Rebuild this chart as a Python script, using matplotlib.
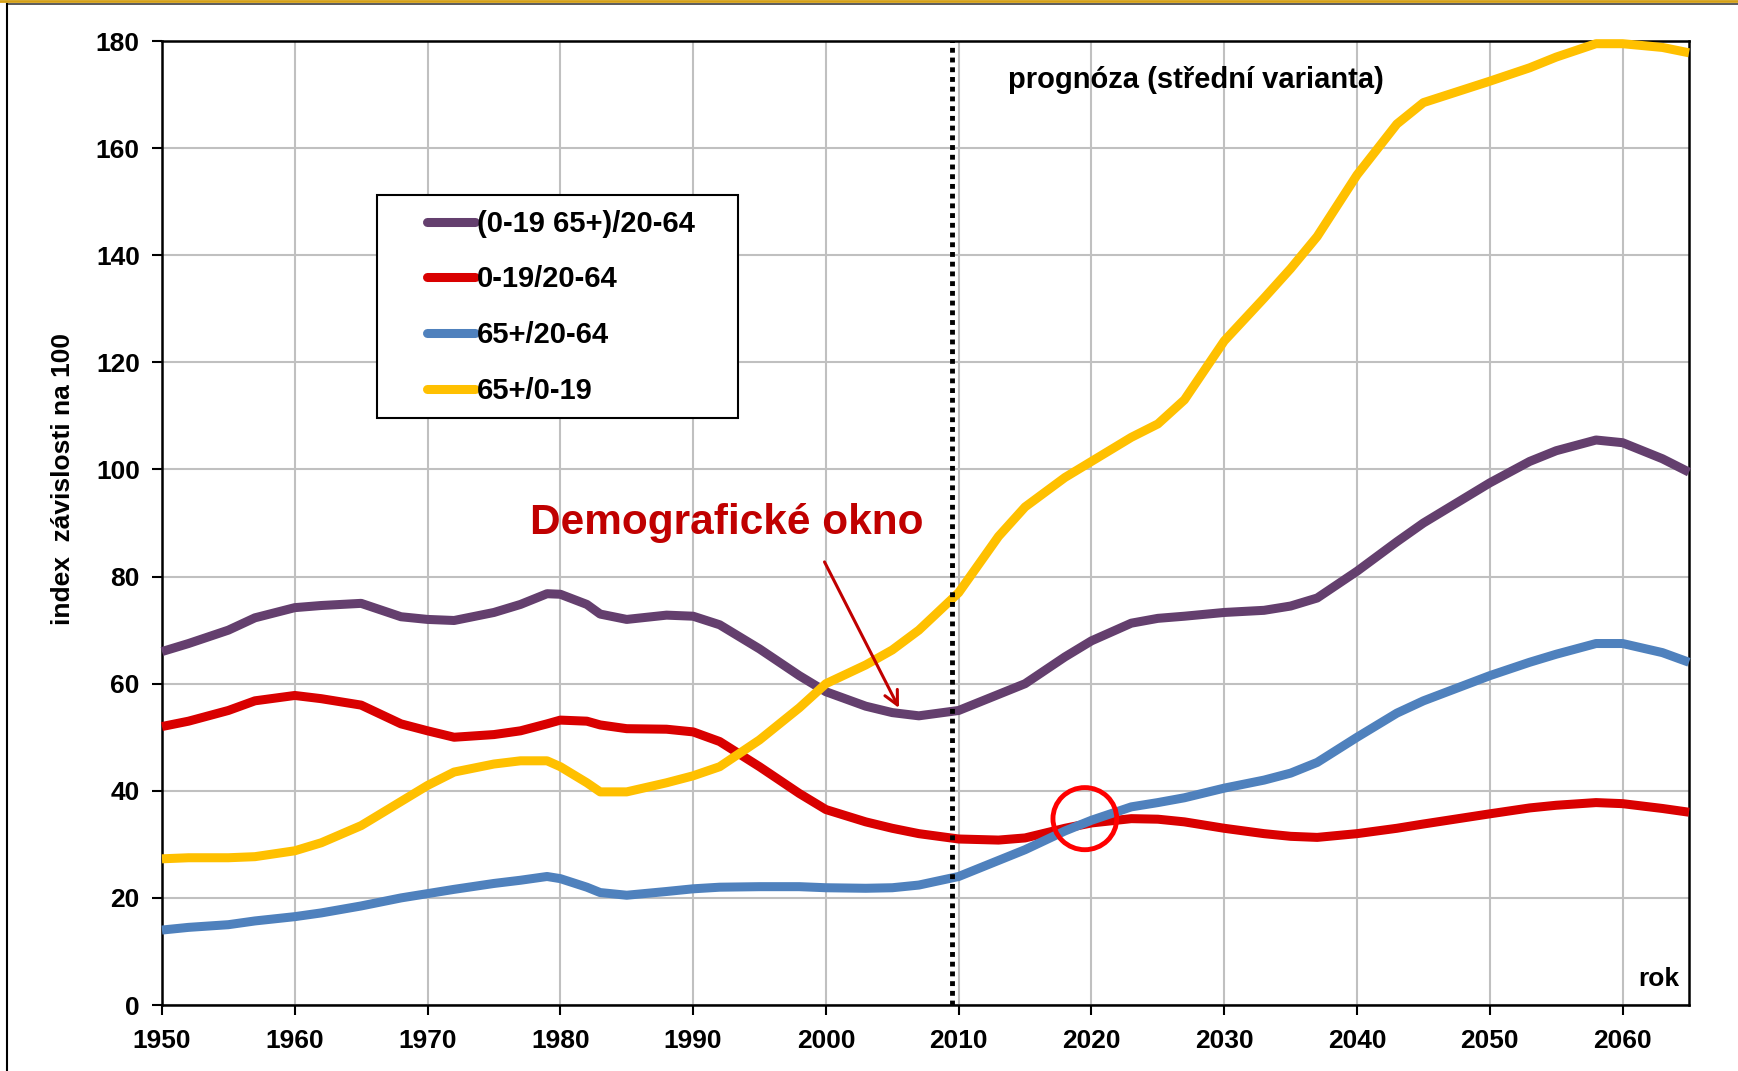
import matplotlib.pyplot as plt
from matplotlib.patches import Ellipse, Rectangle
from matplotlib.lines import Line2D

plt.rcParams['font.family'] = ['Liberation Sans', 'DejaVu Sans']
plt.rcParams['font.weight'] = 'bold'

years = [1950, 1952, 1955, 1957, 1960, 1962, 1965, 1968, 1970, 1972,
         1975, 1977, 1979, 1980, 1982, 1983, 1985, 1988, 1990, 1992,
         1995, 1998, 2000, 2003, 2005, 2007, 2010, 2013, 2015, 2018,
         2020, 2023, 2025, 2027, 2030, 2033, 2035, 2037, 2040, 2043,
         2045, 2050, 2053, 2055, 2058, 2060, 2063, 2065]

total = [66.0, 67.5, 70.0, 72.3, 74.2, 74.6, 75.0, 72.5, 72.0, 71.8,
         73.3, 74.8, 76.8, 76.7, 74.8, 73.0, 72.0, 72.8, 72.6, 71.0,
         66.5, 61.5, 58.5, 55.8, 54.6, 54.0, 55.0, 58.0, 60.0, 65.0,
         68.0, 71.3, 72.2, 72.6, 73.3, 73.7, 74.5, 76.0, 81.0, 86.5,
         90.0, 97.5, 101.5, 103.5, 105.5, 105.0, 102.0, 99.5]

young = [52.0, 53.0, 55.0, 56.8, 57.8, 57.2, 56.0, 52.5, 51.2, 50.0,
         50.5, 51.2, 52.5, 53.2, 53.0, 52.3, 51.6, 51.5, 51.0, 49.2,
         44.5, 39.5, 36.5, 34.2, 33.0, 32.0, 31.0, 30.8, 31.2, 33.0,
         34.0, 34.8, 34.7, 34.2, 33.0, 32.0, 31.5, 31.3, 32.0, 33.0,
         33.8, 35.7, 36.8, 37.3, 37.8, 37.6, 36.7, 36.0]

old = [14.0, 14.5, 15.0, 15.7, 16.5, 17.2, 18.5, 20.0, 20.8, 21.6,
       22.7, 23.3, 24.0, 23.6, 22.0, 21.0, 20.5, 21.2, 21.7, 22.0,
       22.1, 22.1, 21.9, 21.8, 21.9, 22.4, 24.0, 27.0, 29.0, 32.5,
       34.5, 37.0, 37.8, 38.7, 40.5, 42.0, 43.3, 45.3, 50.0, 54.5,
       56.8, 61.5, 64.0, 65.5, 67.5, 67.5, 65.8, 64.0]

aging = [27.3, 27.5, 27.5, 27.7, 28.8, 30.3, 33.5, 38.0, 41.0, 43.5,
         45.0, 45.6, 45.6, 44.5, 41.5, 39.8, 39.8, 41.5, 42.8, 44.5,
         49.5, 55.5, 60.0, 63.5, 66.3, 70.0, 77.0, 87.5, 93.0, 98.5,
         101.5, 106.0, 108.5, 113.0, 124.0, 132.0, 137.5, 143.5, 155.0, 164.5,
         168.5, 172.5, 175.0, 177.0, 179.5, 179.5, 178.8, 177.8]

labels = ['(0-19 65+)/20-64', '0-19/20-64', '65+/20-64', '65+/0-19']
colors = ['#643F6E', '#D90000', '#4F81BD', '#FFC000']

fig = plt.figure(figsize=(17.38, 10.71), dpi=100)
ax = fig.add_axes([0.0932, 0.0616, 0.8786, 0.9001])

for vals, lab, col in zip([total, young, old, aging], labels, colors):
    ax.plot(years, vals, color=col, lw=6.5, label=lab,
            solid_joinstyle='round', solid_capstyle='butt', clip_on=False, zorder=3)

ax.set_xlim(1950, 2065)
ax.set_ylim(0, 180)
ax.set_xticks(range(1950, 2061, 10))
ax.set_yticks(range(0, 181, 20))
ax.grid(True, color='#C0C0C0', lw=1.5)
ax.set_axisbelow(True)
for sp in ax.spines.values():
    sp.set_linewidth(1.8)
    sp.set_color('black')
ax.tick_params(axis='both', direction='out', length=7, width=1.5, labelsize=19)
ax.tick_params(axis='y', pad=9)
ax.tick_params(axis='x', pad=10)

fig.text(0.0363, 0.553, 'index  závislosti na 100', rotation=90, fontsize=19,
         fontweight='bold', ha='center', va='center')

# forecast boundary
ax.axvline(2009.5, color='black', lw=3.5, linestyle=(0, (1, 1)), zorder=4)
ax.text(2013.7, 172.8, 'prognóza (střední varianta)', fontsize=21, fontweight='bold',
        ha='left', va='center')
ax.text(0.9935, 0.027, 'rok', transform=ax.transAxes, fontsize=19, fontweight='bold',
        ha='right', va='center')

# demographic window
ax.text(1977.7, 90.0, 'Demografické okno', color='#C00000', fontsize=30.5,
        fontweight='bold', ha='left', va='center')
ax.annotate('', xy=(2005.6, 55.0), xytext=(1999.8, 83.2),
            arrowprops=dict(arrowstyle='->', color='#C00000', lw=2.2,
                            mutation_scale=25))
ax.add_patch(Ellipse((2019.5, 34.8), 4.8, 11.6, fill=False, edgecolor='#FF0000',
                     lw=3.5, zorder=5))

# legend with a separate box
ax.add_patch(Rectangle((0.1408, 0.6089), 0.2364, 0.2313, transform=ax.transAxes,
                       facecolor='white', edgecolor='black', lw=1.5, zorder=6))
leg = ax.legend(loc='upper left', bbox_to_anchor=(0.1735, 0.8250), borderaxespad=0,
                borderpad=0, fontsize=21, handlelength=1.65, handletextpad=0.05,
                labelspacing=0.95, frameon=False)
leg.set_zorder(7)
for h in leg.get_lines():
    h.set_solid_capstyle('round')

# outer frame
fig.add_artist(Line2D([0, 1], [0.9995, 0.9995], color='#D4A017', lw=2))
fig.add_artist(Line2D([0.004, 1], [0.9963, 0.9963], color='#404040', lw=1.2))
fig.add_artist(Line2D([0.004, 0.004], [0, 0.9963], color='black', lw=1.5))

fig.savefig('out.png', dpi=100)
